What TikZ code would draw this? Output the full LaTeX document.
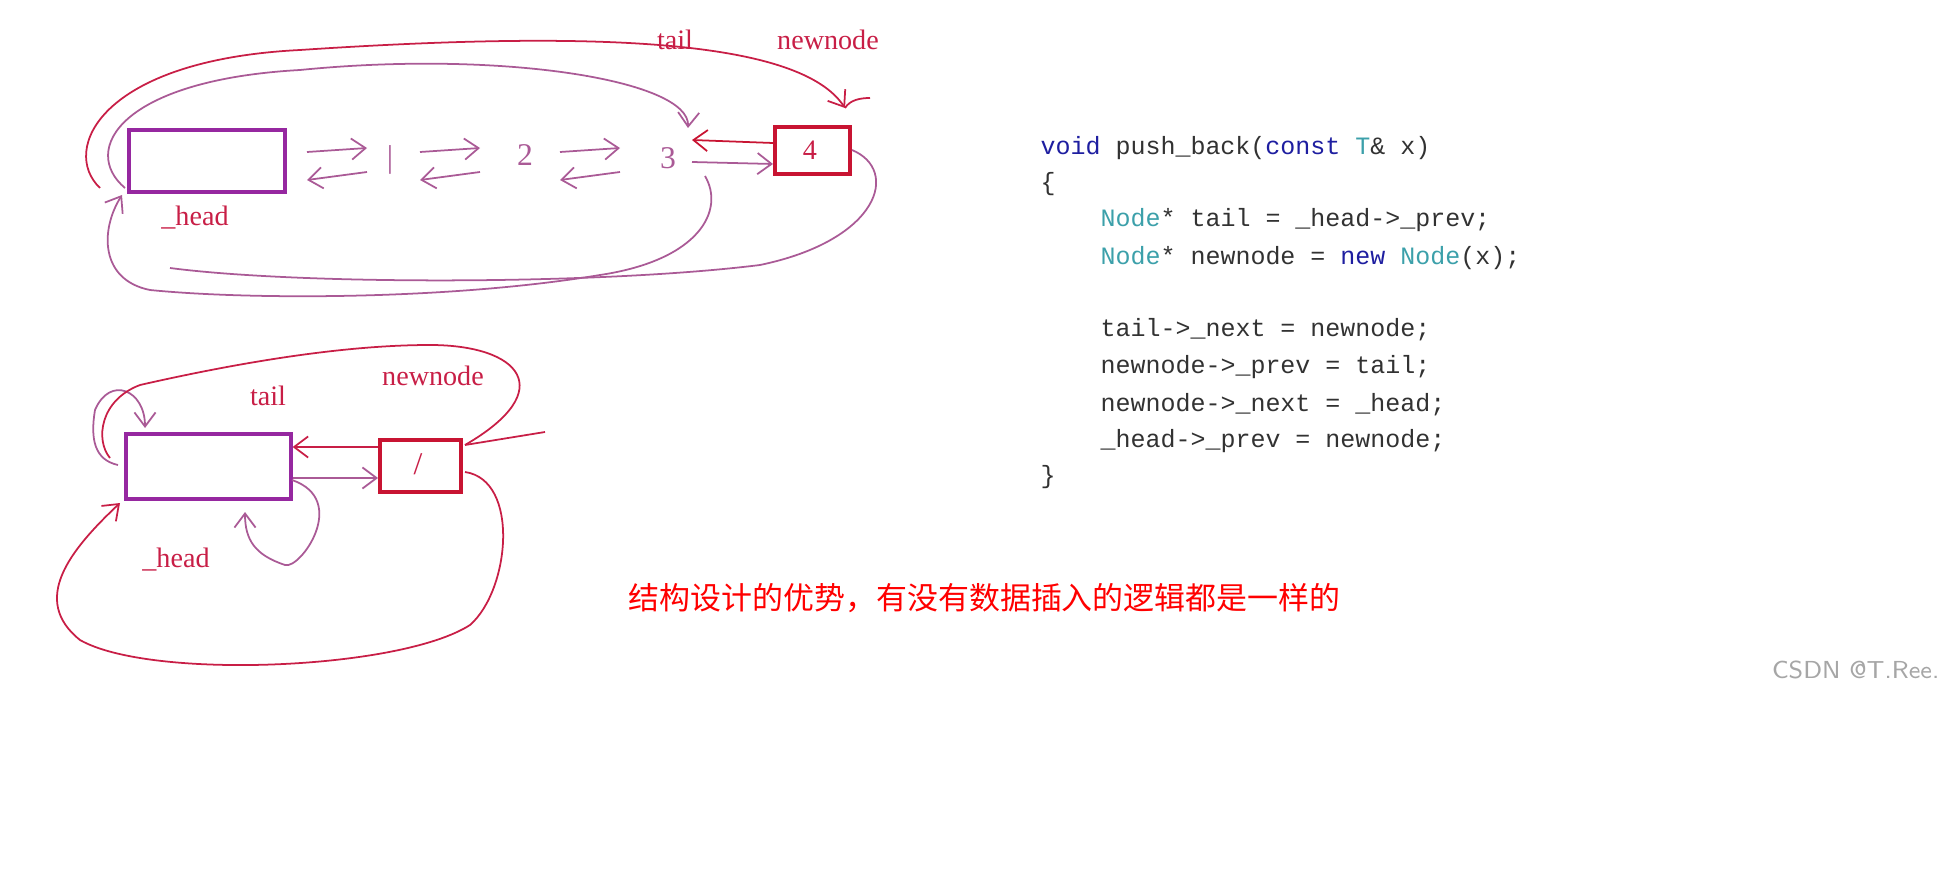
\documentclass[tikz,border=0pt]{standalone}
\usepackage{fontspec}
\setmainfont{Liberation Serif}
\setmonofont{Liberation Mono}
\newfontfamily\cjk{Noto Sans CJK SC}
\usetikzlibrary{arrows.meta}
\definecolor{pur}{RGB}{150,40,160}
\definecolor{rd}{RGB}{200,20,50}
\definecolor{lab}{RGB}{200,30,70}
\definecolor{cur}{RGB}{170,90,150}
\definecolor{kw}{RGB}{30,30,160}
\definecolor{ty}{RGB}{60,160,170}
\definecolor{tx}{RGB}{50,50,50}
\tikzset{
  hbox/.style={draw=pur,line width=1pt,inner sep=0,anchor=north west},
  nbox/.style={draw=rd,line width=1pt,inner sep=0,anchor=north west},
  lbl/.style={text=lab,font=\fontsize{8}{9}\selectfont},
  hand/.style={draw=cur,line width=0.5pt},
  harr/.style={hand,-{Straight Barb[length=4pt,width=6pt]}},
  code/.style={anchor=west,font=\ttfamily\fontsize{7.1}{8}\selectfont,text=tx,inner sep=0}
}
\begin{document}
\begin{tikzpicture}[x=0.01cm,y=-0.01cm]
\useasboundingbox (0,0) rectangle (1948,870);
% top diagram
\node[hbox,minimum width=1.56cm,minimum height=0.62cm] (h1) at (127,128) {};
\node[nbox,minimum width=0.75cm,minimum height=0.47cm] (n4) at (773,125) {};
\node[lbl] at (810,150) {4};
\node[lbl] (t1) at (675,40) {tail};
\node[lbl] (nn1) at (828,40) {newnode};
\node[lbl] (hd1) at (195,218) {\_head};
% hand-drawn middle arrows and numbers
\foreach \a in {307,420,560}{
  \draw[harr] (\a,152) -- (\a+60,148);
  \draw[harr] (\a+60,172) -- (\a,180);
}
\node[text=cur,font=\fontsize{9}{10}\selectfont] at (390,160) {|};
\node[text=cur,font=\fontsize{9}{10}\selectfont] at (525,155) {2};
\node[text=cur,font=\fontsize{9}{10}\selectfont] at (668,158) {3};
\draw[harr,draw=rd] (n4.west |- 0,143) -- (692,140);
\draw[harr] (692,162) -- (n4.west |- 0,164);
% top curves
\draw[harr,draw=lab] (100,188) .. controls (60,150) and (100,60) .. (300,50)
  .. controls (600,30) and (800,40) .. (845,108);
\draw[hand,draw=lab] (845,108) .. controls (850,100) and (860,98) .. (870,98);
\draw[harr] (125,188) .. controls (80,150) and (120,80) .. (300,70)
  .. controls (500,50) and (690,80) .. (688,128);
\draw[hand] (852,150) .. controls (900,170) and (880,240) .. (760,265)
  .. controls (600,285) and (300,285) .. (170,268);
\draw[harr] (705,176) .. controls (725,210) and (700,260) .. (600,275)
  .. controls (450,300) and (250,300) .. (150,290)
  .. controls (100,280) and (100,230) .. (122,195);
% bottom diagram
\node[hbox,minimum width=1.65cm,minimum height=0.65cm] (h2) at (124,432) {};
\node[nbox,minimum width=0.81cm,minimum height=0.52cm] (n1) at (378,438) {};
\node[text=lab,font=\fontsize{9}{10}\selectfont] at (418,464) {/};
\node[lbl] (t2) at (268,396) {tail};
\node[lbl] (nn2) at (433,376) {newnode};
\node[lbl] (hd2) at (176,560) {\_head};
\draw[harr,draw=lab] (n1.west |- 0,447) -- (h2.east |- 0,447);
\draw[harr] (h2.east |- 0,478) -- (n1.west |- 0,478);
\draw[harr] (118,465) .. controls (95,460) and (90,440) .. (95,410)
  .. controls (110,375) and (145,390) .. (145,428);
\draw[hand,draw=lab] (110,458) .. controls (95,440) and (100,400) .. (140,385)
  .. controls (250,360) and (350,345) .. (430,345)
  .. controls (520,345) and (560,390) .. (465,445);
\draw[hand,draw=lab] (465,445) -- (545,432);
\draw[harr] (292,480) .. controls (350,500) and (300,570) .. (285,565)
  .. controls (255,555) and (245,540) .. (245,512);
\draw[harr,draw=lab] (465,472) .. controls (520,480) and (510,590) .. (470,625)
  .. controls (400,670) and (150,680) .. (80,640)
  .. controls (30,600) and (70,550) .. (120,503);
% code
\node[code] (l1) at (1040,148) {\textcolor{kw}{void} push\_back(\textcolor{kw}{const} \textcolor{ty}{T}\& x)};
\node[code] at (1040,184) {\{};
\node[code] at (1100,220) {\textcolor{ty}{Node}* tail = \_head->\_prev;};
\node[code] at (1100,258) {\textcolor{ty}{Node}* newnode = \textcolor{kw}{new} \textcolor{ty}{Node}(x);};
\node[code] at (1100,330) {tail->\_next = newnode;};
\node[code] at (1100,367) {newnode->\_prev = tail;};
\node[code] at (1100,405) {newnode->\_next = \_head;};
\node[code] at (1100,441) {\_head->\_prev = newnode;};
\node[code] at (1040,477) {\}};
\node[anchor=west,text=red,inner sep=0,font=\cjk\fontsize{8.8}{10}\selectfont] at (628,598) {结构设计的优势，有没有数据插入的逻辑都是一样的};
\node[anchor=east,text=gray!70,inner sep=0,font=\sffamily\fontsize{7}{8}\selectfont] at (1940,670) {CSDN @T.Ree.};
\end{tikzpicture}
\end{document}
